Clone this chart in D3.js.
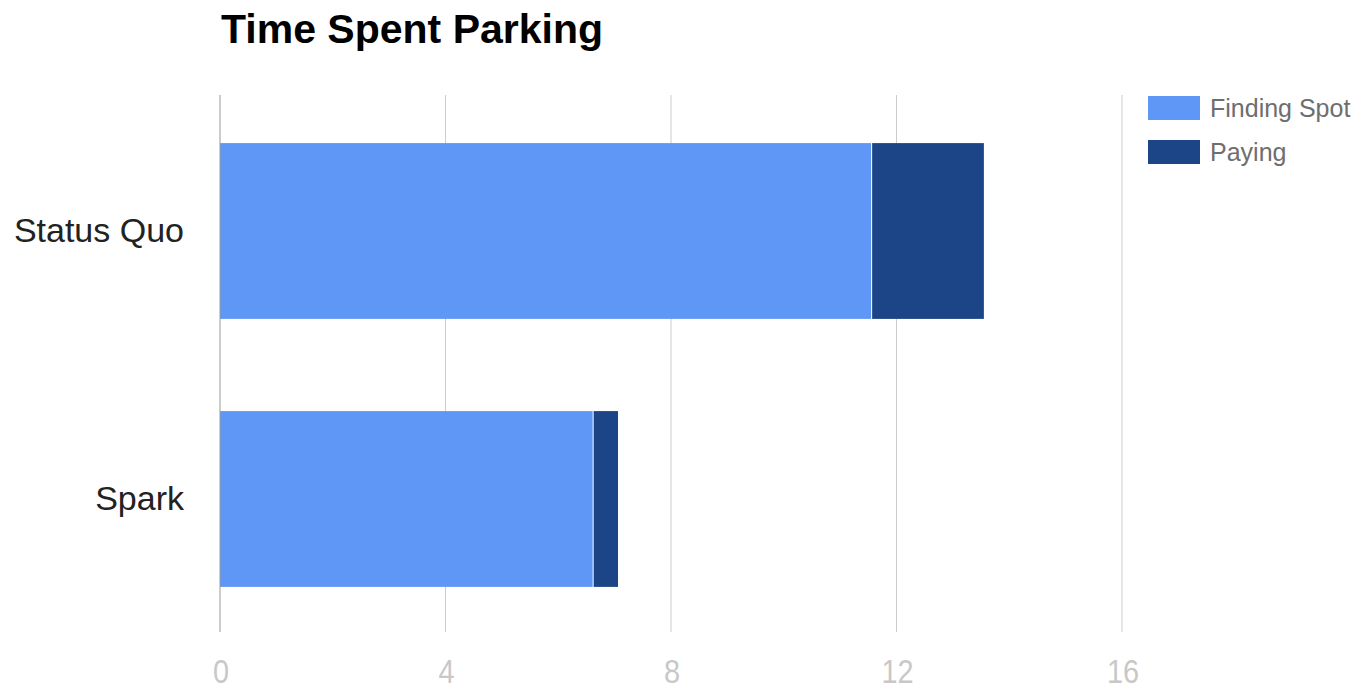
<!DOCTYPE html>
<html><head><meta charset="utf-8">
<script src="https://cdn.jsdelivr.net/npm/d3@7"></script>
<style>body{margin:0;background:#fff;}svg{display:block;font-family:"Liberation Sans",Arial,sans-serif;}</style>
</head><body>
<svg id="c" width="1362" height="690"></svg>
<script>
const categories = ["Status Quo", "Spark"];
const seriesNames = ["Finding Spot", "Paying"];
const findingSpot = [11.55, 6.61];
const paying = [2.0, 0.45];
const tickValues = [0, 4, 8, 12, 16];
const colors = ["#5e97f6", "#1c4587"];

const svg = d3.select("#c");
const m = {left: 220, right: 1122, top: 95, bottom: 632};
const x = d3.scaleLinear().domain([0, 16]).range([m.left, m.right]);
const y = d3.scaleBand().domain(categories).range([97, 633]).paddingInner(0.344).paddingOuter(0.172);

// gridlines
svg.append("g").selectAll("line").data(tickValues.filter(d => d !== 0)).join("line")
  .attr("x1", d => x(d)).attr("x2", d => x(d)).attr("y1", m.top).attr("y2", m.bottom)
  .attr("stroke", "#cccccc").attr("stroke-width", 1);

const stackData = categories.map((c, i) => ({cat: c, "Finding Spot": findingSpot[i], "Paying": paying[i]}));
const stacked = d3.stack().keys(seriesNames)(stackData);

svg.append("g").selectAll("g").data(stacked).join("g")
  .attr("fill", (d, i) => colors[i])
  .selectAll("rect").data(d => d).join("rect")
  .attr("x", d => x(d[0]) + (d[0] > 0 ? 1 : 0))
  .attr("width", d => x(d[1]) - x(d[0]) - (d[0] > 0 ? 1 : 0))
  .attr("y", d => y(d.data.cat))
  .attr("height", y.bandwidth());

// baseline
svg.append("line").attr("x1", x(0)).attr("x2", x(0)).attr("y1", m.top).attr("y2", m.bottom)
  .attr("stroke", "#999999").attr("stroke-width", 1);

// x axis labels
const xAxis = d3.axisBottom(x).tickValues(tickValues).tickSize(0).tickPadding(27);
const gx = svg.append("g").attr("transform", `translate(0,${m.bottom})`).call(xAxis);
gx.select(".domain").remove();
gx.selectAll("text").attr("fill", "#c8c8c8").style("font-size", "34px")
  .style("font-family", "'Liberation Sans',Arial,sans-serif")
  .attr("transform", "scale(0.85,1)")
  .attr("x", 0);
gx.selectAll(".tick").attr("transform", d => `translate(${x(d) + 1},0)`);

// y axis labels
const yAxis = d3.axisLeft(y).tickSize(0).tickPadding(36);
const gy = svg.append("g").attr("transform", `translate(${m.left},0)`).call(yAxis);
gy.select(".domain").remove();
gy.selectAll("text").attr("fill", "#222").style("font-size", "34px").style("font-family", "'Liberation Sans',Arial,sans-serif");

// title
svg.append("text").attr("x", 221).attr("y", 43).text("Time Spent Parking")
  .attr("font-weight", "bold").attr("font-size", "41px").attr("fill", "#000");

// legend
const lg = svg.append("g").selectAll("g").data(seriesNames).join("g")
  .attr("transform", (d, i) => `translate(1148,${96 + i * 44})`);
lg.append("rect").attr("width", 52).attr("height", 24).attr("fill", (d, i) => colors[i]);
lg.append("text").attr("x", 62).attr("y", 21).text(d => d).attr("fill", "#6e6e6e").attr("font-size", "25px");
</script>
</body></html>
